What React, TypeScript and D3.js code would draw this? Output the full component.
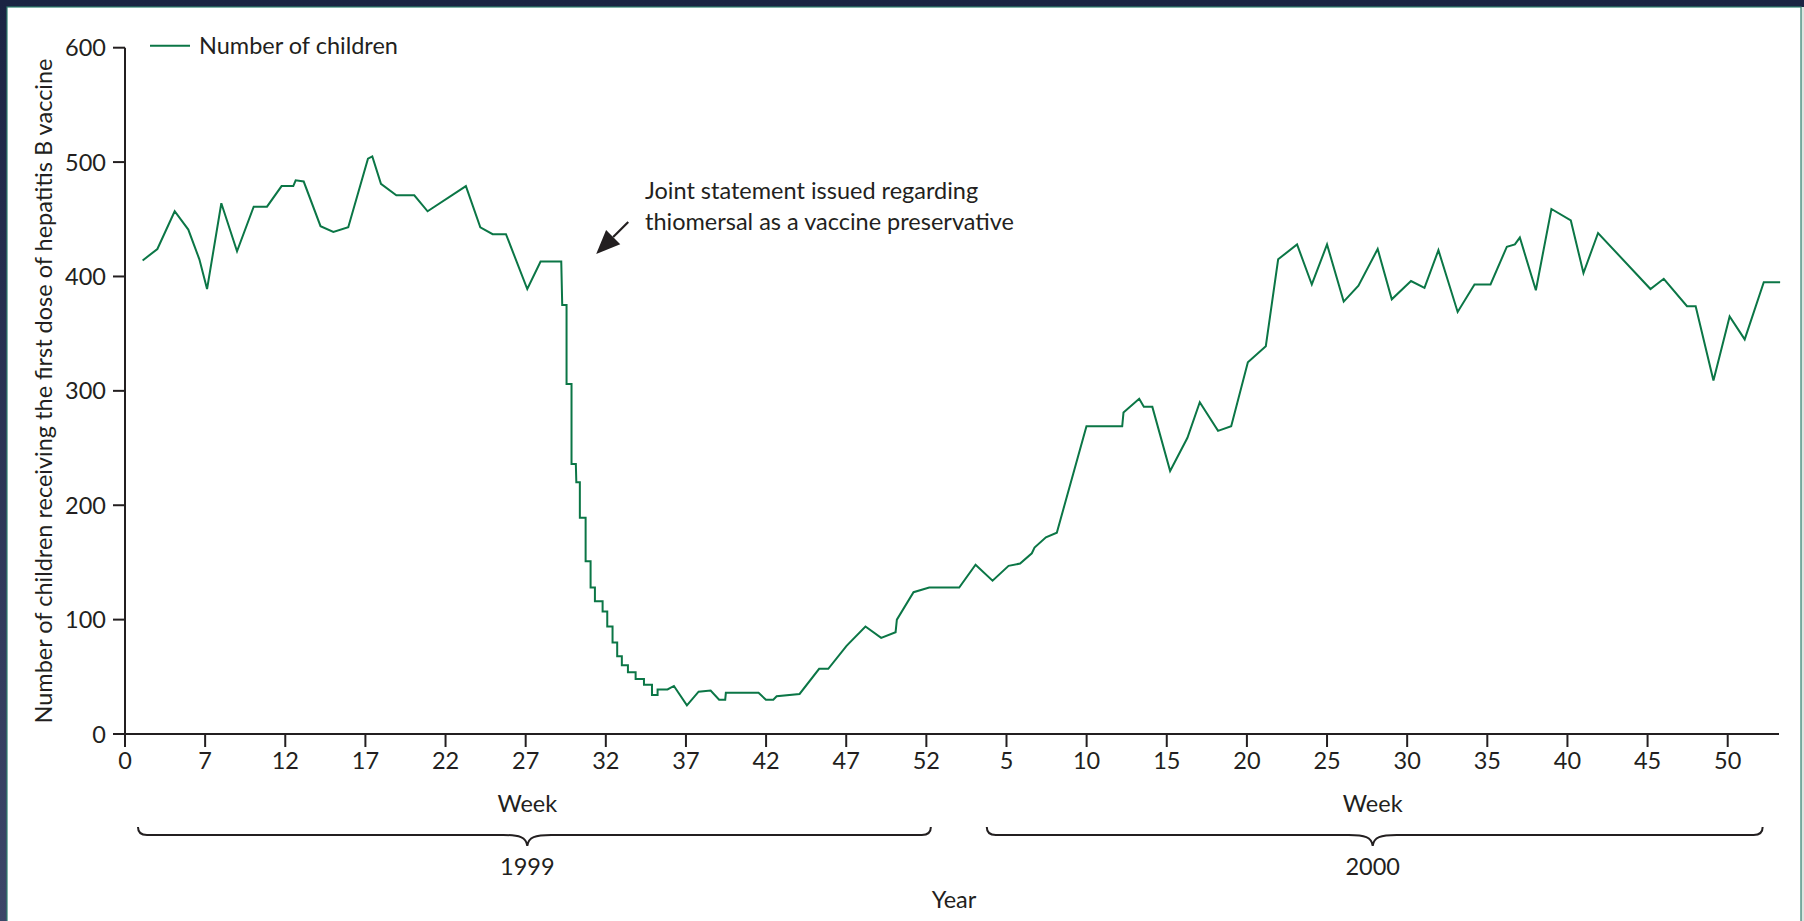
import React from "react";
import * as d3 from "d3";

// Position along the week axis (1999 week w -> w-2 ; 2000 week w -> 50+w)
const weekPos = [
  1.1, 2.02, 3.1, 3.95, 4.64, 5.12, 6.01, 6.99, 8.03, 8.86, 9.77, 10.5, 10.65, 11.15,
  12.2, 13.0, 13.93, 15.16, 15.43, 15.97, 16.93, 18.05, 18.88, 21.27, 22.17, 22.94,
  23.77, 25.1, 25.93, 27.22, 27.28, 27.55, 27.55, 27.86, 27.86, 28.13, 28.16, 28.38,
  28.38, 28.74, 28.74, 29.05, 29.05, 29.32, 29.32, 29.8, 29.8, 30.09, 30.09, 30.42,
  30.42, 30.71, 30.71, 31.0, 31.0, 31.38, 31.38, 31.86, 31.86, 32.38, 32.38, 32.88,
  32.88, 33.23, 33.23, 33.85, 34.25, 35.06, 35.79, 36.54, 37.07, 37.45, 37.49, 39.53,
  39.99, 40.45, 40.66, 42.09, 43.31, 43.88, 45.02, 46.2, 47.18, 48.08, 48.16, 49.2,
  50.18, 52.05, 53.07, 54.13, 55.13, 55.85, 56.58, 56.75, 57.46, 58.14, 59.99, 62.22,
  62.3, 63.28, 63.57, 64.1, 65.21, 66.29, 67.06, 68.2, 69.02, 70.06, 71.18, 71.95,
  73.13, 74.05, 75.0, 76.04, 76.96, 78.16, 79.04, 80.24, 81.08, 81.95, 83.15, 84.2,
  85.2, 86.22, 86.72, 87.03, 88.03, 89.0, 90.21, 91.0, 91.91, 95.18, 96.01, 97.46,
  98.0, 99.11, 100.12, 101.06, 102.25, 103.27,
];

const counts = [
  414, 424, 457, 441, 415, 389, 464, 422, 461, 461, 479, 479, 484, 483,
  444, 439, 443, 503, 505, 481, 471, 471, 457, 479, 443, 437,
  437, 389, 413, 413, 375, 375, 306, 306, 236, 236, 220, 220,
  189, 189, 151, 151, 128, 128, 116, 116, 107, 107, 94, 94,
  80, 80, 68, 68, 60, 60, 54, 54, 48, 48, 43, 43,
  34, 34, 39, 39, 42, 25, 37, 38, 30, 30, 36, 36,
  30, 30, 33, 35, 57, 57, 77, 94, 84, 89, 100, 124,
  128, 128, 148, 134, 147, 149, 158, 163, 172, 176, 269, 269,
  281, 293, 286, 286, 230, 259, 290, 265, 269, 325, 339, 415,
  428, 393, 428, 378, 392, 424, 380, 396, 390, 423, 369, 393,
  393, 426, 428, 434, 388, 459, 449, 403, 438, 389, 398, 374,
  374, 309, 365, 345, 395, 395,
];

const xTickPos = [0, 5, 10, 15, 20, 25, 30, 35, 40, 45, 50, 55, 60, 65, 70, 75, 80, 85, 90, 95, 100];
const xTickLabels = ["0", "7", "12", "17", "22", "27", "32", "37", "42", "47", "52", "5", "10", "15", "20", "25", "30", "35", "40", "45", "50"];
const yTicks = [0, 100, 200, 300, 400, 500, 600];

const years = ["1999", "2000"];
const braceStart = [0.81, 53.77];
const braceEnd = [50.28, 102.18];
const braceMid = [25.1, 77.85];

const W = 1804;
const H = 921;
const FONT = "Lato, 'Open Sans', sans-serif";
const INK = "#231f20";
const GREEN = "#0b7646";

export default function App() {
  const x = d3.scaleLinear().domain([0, 103.2]).range([125, 1779]);
  const y = d3.scaleLinear().domain([0, 600]).range([734, 47.7]);

  const line = d3
    .line<number>()
    .x((_, i) => x(weekPos[i]))
    .y((d) => y(d));

  const axisY = y(0);

  const bracePath = (i: number) => {
    const x1 = x(braceStart[i]);
    const x2 = x(braceEnd[i]);
    const xm = x(braceMid[i]);
    const yTop = 827;
    const yMid = 835;
    const yTip = 846;
    return [
      `M${x1},${yTop}`,
      `Q${x1},${yMid} ${x1 + 9},${yMid}`,
      `L${xm - 24},${yMid}`,
      `C${xm - 8},${yMid} ${xm - 1},${yMid + 2} ${xm},${yTip}`,
      `C${xm + 1},${yMid + 2} ${xm + 8},${yMid} ${xm + 24},${yMid}`,
      `L${x2 - 9},${yMid}`,
      `Q${x2},${yMid} ${x2},${yTop}`,
    ].join(" ");
  };

  // annotation arrow (in data units)
  const arrowTail = [x(31.4), y(447.6)];
  const arrowTip = [x(29.4), y(419.6)];
  const ang = Math.atan2(arrowTip[1] - arrowTail[1], arrowTip[0] - arrowTail[0]);
  const headLen = 24;
  const headW = 10;
  const bx = arrowTip[0] - headLen * Math.cos(ang);
  const by = arrowTip[1] - headLen * Math.sin(ang);
  const px = -Math.sin(ang) * headW;
  const py = Math.cos(ang) * headW;

  return (
    <svg
      width={W}
      height={H}
      style={{ position: "absolute", left: 0, top: 0, display: "block" }}
      fontFamily={FONT}
    >
      <defs>
        <linearGradient id="frame" x1="0" y1="0" x2="0" y2="1">
          <stop offset="0" stopColor="#1b2443" />
          <stop offset="1" stopColor="#3c4668" />
        </linearGradient>
      </defs>
      <rect x={0} y={0} width={W} height={H} fill="url(#frame)" />
      <rect x={1801} y={7} width={3} height={H - 7} fill="#dce6e1" />
      <rect x={7} y={7} width={1794} height={H} fill="#ffffff" stroke="#2f7f6e" strokeWidth={1.2} />

      {/* legend */}
      <line x1={150} x2={190} y1={45.7} y2={45.7} stroke={GREEN} strokeWidth={2} />
      <text x={199} y={54} fontSize={23.5} fill={INK}>
        Number of children
      </text>

      {/* y axis */}
      <line x1={x(0)} x2={x(0)} y1={y(0)} y2={y(600)} stroke={INK} strokeWidth={2} />
      {yTicks.map((t) => (
        <g key={t}>
          <line x1={x(0) - 12} x2={x(0)} y1={y(t)} y2={y(t)} stroke={INK} strokeWidth={2} />
          <text x={x(0) - 19} y={y(t) + 8.5} fontSize={23.5} fill={INK} textAnchor="end">
            {t}
          </text>
        </g>
      ))}
      <text
        transform={`translate(52,${391}) rotate(-90)`}
        fontSize={23.5}
        fill={INK}
        textAnchor="middle"
      >
        Number of children receiving the first dose of hepatitis B vaccine
      </text>

      {/* x axis */}
      <line x1={x(0) - 12} x2={x(103.2)} y1={axisY} y2={axisY} stroke={INK} strokeWidth={2} />
      {xTickPos.map((p, i) => (
        <g key={p}>
          <line x1={x(p)} x2={x(p)} y1={axisY} y2={axisY + 13} stroke={INK} strokeWidth={2} />
          <text x={x(p)} y={769} fontSize={23.5} fill={INK} textAnchor="middle">
            {xTickLabels[i]}
          </text>
        </g>
      ))}

      {years.map((yr, i) => (
        <g key={yr}>
          <text x={x(braceMid[i])} y={812} fontSize={23.5} fill={INK} textAnchor="middle">
            Week
          </text>
          <path d={bracePath(i)} fill="none" stroke={INK} strokeWidth={2} />
          <text x={x(braceMid[i])} y={875} fontSize={23.5} fill={INK} textAnchor="middle">
            {yr}
          </text>
        </g>
      ))}
      <text x={954} y={908} fontSize={23.5} fill={INK} textAnchor="middle">
        Year
      </text>

      {/* data line */}
      <path d={line(counts) || ""} fill="none" stroke={GREEN} strokeWidth={2} strokeLinejoin="miter" />

      {/* annotation */}
      <line x1={arrowTail[0]} y1={arrowTail[1]} x2={bx} y2={by} stroke={INK} strokeWidth={2.2} />
      <polygon
        points={`${arrowTip[0]},${arrowTip[1]} ${bx + px},${by + py} ${bx - px},${by - py}`}
        fill={INK}
      />
      <text x={645} y={199} fontSize={23.5} fill={INK}>
        Joint statement issued regarding
      </text>
      <text x={645} y={230} fontSize={23.5} fill={INK}>
        thiomersal as a vaccine preservative
      </text>
    </svg>
  );
}
